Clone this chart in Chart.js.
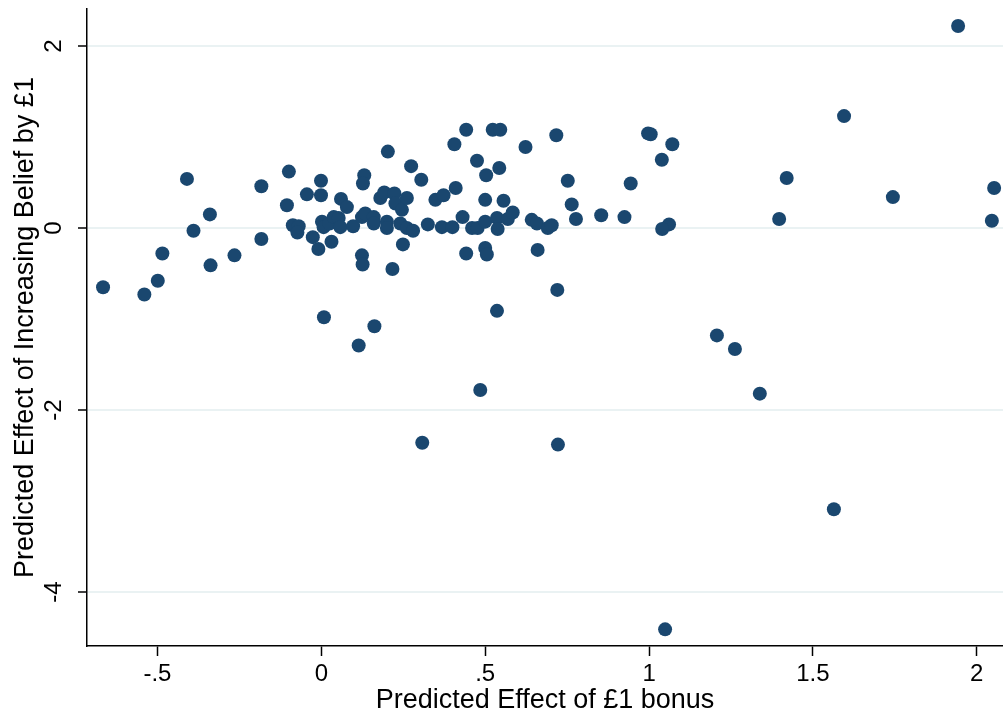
<!DOCTYPE html>
<html>
<head>
<meta charset="utf-8">
<script src="https://cdn.jsdelivr.net/npm/chart.js@4.4.1/dist/chart.umd.min.js"></script>
<style>
  html, body { margin: 0; padding: 0; background: #fff; }
  #wrap { width: 1003px; height: 717px; }
</style>
</head>
<body>
<div id="wrap"><canvas id="scatterChart"></canvas></div>
<script>
// Predicted effect of £1 bonus (x) vs predicted effect of increasing belief by £1 (y)
const bonusEffect = [
  -0.666, -0.54, -0.499, -0.485, -0.41, -0.39, -0.34, -0.338, -0.265, -0.183,
  -0.183, -0.099, -0.105, -0.044, -0.001, -0.001, -0.087, -0.069, -0.073, -0.026,
  -0.009, 0.031, 0.008, 0.06, 0.002, 0.007, 0.025, 0.038, 0.053, 0.058,
  0.078, 0.097, 0.124, 0.131, 0.127, 0.134, 0.124, 0.126, 0.16, 0.16,
  0.203, 0.18, 0.192, 0.2, 0.2, 0.223, 0.226, 0.246, 0.261, 0.241,
  0.261, 0.28, 0.249, 0.217, 0.274, 0.305, 0.325, 0.368, 0.40, 0.348,
  0.373, 0.41, 0.406, 0.442, 0.475, 0.431, 0.46, 0.477, 0.442, 0.50,
  0.503, 0.5, 0.5, 0.505, 0.114, 0.162, 0.543, 0.523, 0.546, 0.556,
  0.536, 0.538, 0.569, 0.584, 0.623, 0.642, 0.658, 0.66, 0.691, 0.703,
  0.717, 0.752, 0.764, 0.777, 0.854, 0.925, 0.944, 0.997, 1.005, 1.071,
  1.039, 1.061, 1.04, 0.72, 0.536, 0.485, 0.308, 0.722, 1.207, 1.262,
  1.338, 1.397, 1.42, 1.595, 1.564, 1.744, 1.943, 2.053, 2.046, 1.049
];
const beliefEffect = [
  -0.65, -0.73, -0.58, -0.28, 0.54, -0.03, 0.15, -0.41, -0.30, 0.46,
  -0.12, 0.62, 0.25, 0.37, 0.52, 0.36, 0.03, 0.02, -0.05, -0.10,
  -0.23, -0.15, -0.98, 0.32, 0.07, 0.01, 0.05, 0.12, 0.11, 0.01,
  0.23, 0.02, 0.12, 0.58, 0.49, 0.16, -0.30, -0.40, 0.12, 0.05,
  0.84, 0.33, 0.39, 0.07, 0.0, 0.38, 0.27, 0.20, 0.33, 0.05,
  0.0, -0.03, -0.18, -0.45, 0.68, 0.53, 0.04, 0.01, 0.01, 0.31,
  0.36, 0.44, 0.92, 1.08, 0.74, 0.12, 0.0, 0.0, -0.28, 0.31,
  0.58, 0.07, -0.22, -0.29, -1.29, -1.08, 0.66, 1.08, 1.08, 0.30,
  0.11, -0.01, 0.10, 0.17, 0.89, 0.09, 0.05, -0.24, 0.0, 0.03,
  1.02, 0.52, 0.26, 0.10, 0.14, 0.12, 0.49, 1.04, 1.03, 0.92,
  0.75, 0.04, -0.01, -0.68, -0.91, -1.78, -2.36, -2.38, -1.18, -1.33,
  -1.82, 0.10, 0.55, 1.23, -3.09, 0.34, 2.22, 0.44, 0.08, -4.41
];

const xTickValues = [-0.5, 0, 0.5, 1, 1.5, 2];
const xTickLabels = ["-.5", "0", ".5", "1", "1.5", "2"];
const yTickValues = [-4, -2, 0, 2];
const yTickLabels = ["-4", "-2", "0", "2"];

const points = bonusEffect.map((x, i) => ({ x: x, y: beliefEffect[i] }));

const fontFamily = "'Liberation Sans', Arial, Helvetica, sans-serif";
const navy = "#1a476f";

// stop Chart.js from shrinking the plot area to make room for edge labels
function noEdgePadding(scale) {
    scale.paddingLeft = 0;
    scale.paddingRight = 0;
    scale.paddingTop = 0;
    scale.paddingBottom = 0;
}

const ctx = document.getElementById("scatterChart").getContext("2d");
new Chart(ctx, {
    type: "scatter",
    data: {
        datasets: [{
            data: points,
            backgroundColor: navy,
            borderColor: navy,
            borderWidth: 0,
            pointRadius: 7,
            pointHoverRadius: 7
        }]
    },
    options: {
        responsive: true,
        maintainAspectRatio: false,
        animation: false,
        devicePixelRatio: 1,
        layout: { autoPadding: false, padding: { top: 9, right: 0, left: 0, bottom: 0 } },
        plugins: {
            legend: { display: false },
            tooltip: { enabled: false }
        },
        scales: {
            x: {
                type: "linear",
                min: -0.715,
                max: 2.08,
                afterBuildTicks: (scale) => { scale.ticks = xTickValues.map(v => ({ value: v })); },
                afterFit: (scale) => { scale.height = 71; noEdgePadding(scale); },
                ticks: {
                    callback: (value, index) => xTickLabels[index],
                    color: "#000",
                    font: { family: fontFamily, size: 24 },
                    padding: 4,
                    maxRotation: 0,
                    minRotation: 0
                },
                grid: {
                    drawOnChartArea: false,
                    drawTicks: true,
                    tickLength: 10,
                    tickColor: "#000",
                    tickWidth: 1.5
                },
                border: { color: "#000", width: 1.5 },
                title: {
                    display: true,
                    text: "Predicted Effect of £1 bonus",
                    color: "#000",
                    font: { family: fontFamily, size: 27, lineHeight: 1.2 },
                    padding: { top: 0, bottom: 0 }
                }
            },
            y: {
                type: "linear",
                min: -4.593,
                max: 2.407,
                afterBuildTicks: (scale) => { scale.ticks = yTickValues.map(v => ({ value: v })); },
                afterFit: (scale) => { scale.width = 87; noEdgePadding(scale); },
                ticks: {
                    callback: (value, index) => yTickLabels[index],
                    color: "#000",
                    font: { family: fontFamily, size: 24 },
                    padding: 13,
                    minRotation: 90,
                    maxRotation: 90,
                    crossAlign: "center"
                },
                grid: {
                    color: "#eaf2f3",
                    lineWidth: 2,
                    drawTicks: true,
                    tickLength: 9,
                    tickColor: "#000",
                    tickWidth: 1.5
                },
                border: { color: "#000", width: 1.5 },
                title: {
                    display: true,
                    text: "Predicted Effect of Increasing Belief by £1",
                    color: "#000",
                    font: { family: fontFamily, size: 27, lineHeight: 1.2 },
                    padding: { top: 9, bottom: 0 }
                }
            }
        }
    }
});
</script>
</body>
</html>
